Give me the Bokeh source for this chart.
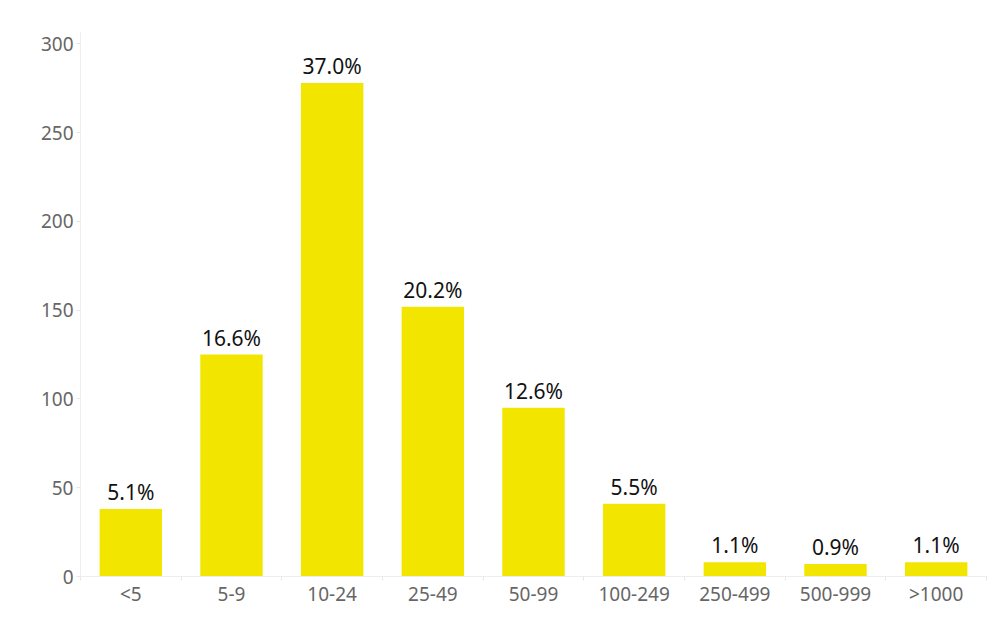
from bokeh.plotting import figure
from bokeh.models import ColumnDataSource, Range1d, FixedTicker, LabelSet
from bokeh.core.properties import value
from bokeh.embed import file_html
from bokeh.resources import INLINE

categories = ["<5", "5-9", "10-24", "25-49", "50-99", "100-249", "250-499", "500-999", ">1000"]
counts = [38, 125, 278, 152, 95, 41, 8, 7, 8]
pct_labels = ["5.1%", "16.6%", "37.0%", "20.2%", "12.6%", "5.5%", "1.1%", "0.9%", "1.1%"]
y_ticks = [0, 50, 100, 150, 200, 250, 300]

FONT = "Noto Sans"
xs = [i + 0.5 for i in range(len(categories))]
src = ColumnDataSource(dict(x=xs, top=counts, lab=pct_labels))

p = figure(width=992, height=617, output_backend="svg", toolbar_location=None,
           x_range=Range1d(0, len(categories)), y_range=Range1d(0, 307),
           min_border_left=80, min_border_right=6, min_border_top=31, min_border_bottom=41)
p.outline_line_color = None
p.grid.grid_line_color = None
p.background_fill_color = "white"

p.vbar(x="x", top="top", width=0.62, bottom=0, source=src, color="#f2e600", line_color=None)

labels = LabelSet(x="x", y="top", text="lab", source=src, text_align="center",
                  text_baseline="bottom", y_offset=3, text_font=value(FONT),
                  text_font_size="21px", text_color="#111111")
p.add_layout(labels)

p.xaxis.ticker = FixedTicker(ticks=xs, minor_ticks=list(range(len(categories) + 1)))
p.xaxis.major_label_overrides = {x: c for x, c in zip(xs, categories)}
p.xaxis.major_tick_line_color = None
p.xaxis.major_tick_in = 0
p.xaxis.major_tick_out = 0
p.xaxis.minor_tick_line_color = "#e6e6e6"
p.xaxis.minor_tick_in = 0
p.xaxis.minor_tick_out = 4

p.yaxis.ticker = FixedTicker(ticks=y_ticks)
p.yaxis.minor_tick_line_color = None
p.yaxis.major_tick_line_color = "#e6e6e6"
p.yaxis.major_tick_in = 0
p.yaxis.major_tick_out = 4

for ax in (p.xaxis, p.yaxis):
    ax.axis_line_color = "#eeeeee"
    ax.major_label_text_font = FONT
    ax.major_label_text_font_size = "19px"
    ax.major_label_text_color = "#666666"
p.xaxis.major_label_standoff = 0
p.yaxis.major_label_standoff = 3

open("out.html", "w").write(file_html(p, INLINE))
